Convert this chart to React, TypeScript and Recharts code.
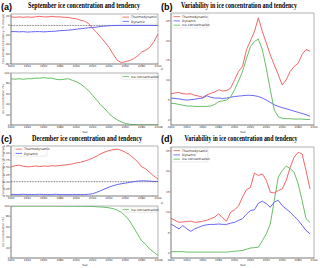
import React from 'react';
import { LineChart, Line, XAxis, YAxis, ReferenceLine, ReferenceArea } from 'recharts';

// years
const yearsFull = [
  1920, 1925, 1930, 1935, 1940, 1945, 1950, 1955, 1960, 1965, 1970, 1975, 1980, 1985, 1990, 1995, 2000, 2005, 2010,
  2015, 2020, 2025, 2030, 2035, 2040, 2045, 2050, 2055, 2060, 2065, 2070, 2075, 2080, 2085, 2090, 2095, 2100,
];
const yearsVar = yearsFull.slice(0, 36);
const xTicks = [1920, 1940, 1960, 1980, 2000, 2020, 2040, 2060, 2080, 2100];

// (a) September
const thermoA = [18, 17, 18, 17, 18, 17, 18, 19, 18, 18, 19, 18, 18, 17, 17, 15, 14, 11, 9, 4, -6, -15, -25, -35, -46, -60, -73, -78, -76, -74, -70, -64, -56, -52, -46, -34, -18];
const dynA = [-13, -13, -13.5, -13, -14, -13.5, -13, -13, -13.5, -13, -12.5, -12, -11, -10.5, -10, -9, -8, -7, -6, -5, -4.5, -3.5, -2, -1.5, -0.7, -0.3, 0, 0, 0, 0, 0, 0, 0, 0, 0, 0, 0];
const iceA = [89, 88, 89, 88, 89, 89, 90, 90, 91, 90, 90, 88, 87, 88, 89, 86, 83, 79, 73, 66, 57, 48, 38, 31, 22, 15, 10, 6, 3, 1.5, 0.8, 0.5, 0.3, 0.3, 0.2, 0.2, 0.2];

// (b) September variability
const thermoB = [6.6, 6.8, 6.9, 6.6, 6.5, 6.6, 6.2, 6.0, 5.7, 6.3, 6.7, 7.0, 7.6, 7.3, 7.4, 8.0, 10.1, 12.2, 13.5, 17.7, 20, 22.3, 25.8, 22.3, 19.4, 16.4, 13.9, 11.4, 8.8, 10.1, 12.2, 13.5, 14.3, 16.5, 17.8, 17.3];
const dynB = [5.5, 5.4, 5.3, 5.1, 5.0, 5.1, 5.2, 5.4, 5.5, 6.1, 5.7, 5.5, 5.5, 5.4, 5.5, 5.7, 5.9, 6.0, 6.1, 6.2, 6.2, 6.1, 5.9, 5.5, 5.0, 4.4, 3.8, 3.4, 3.1, 2.8, 2.5, 2.2, 1.9, 1.6, 1.3, 0.9];
const iceB = [4.2, 4.1, 3.9, 3.7, 3.5, 3.5, 3.4, 3.4, 3.4, 3.4, 3.5, 3.9, 4.6, 4.8, 5.0, 5.8, 7.6, 9.8, 12.2, 15.5, 18.5, 19.8, 20.4, 17.7, 13.0, 7.6, 2.5, 0.8, 0.4, 0.3, 0.3, 0.2, 0.2, 0.2, 0.1, 0.1];

// (c) December
const thermoC = [0.52, 0.56, 0.58, 0.54, 0.52, 0.53, 0.55, 0.53, 0.55, 0.54, 0.56, 0.55, 0.57, 0.58, 0.6, 0.62, 0.66, 0.68, 0.72, 0.77, 0.83, 0.9, 0.98, 1.04, 1.09, 1.12, 1.14, 1.1, 1.03, 0.95, 0.83, 0.7, 0.52, 0.45, 0.32, 0.2, 0.09];
const dynC = [-0.44, -0.45, -0.45, -0.44, -0.45, -0.45, -0.45, -0.44, -0.45, -0.45, -0.45, -0.44, -0.45, -0.45, -0.45, -0.45, -0.45, -0.45, -0.45, -0.44, -0.42, -0.37, -0.31, -0.25, -0.19, -0.14, -0.1, -0.07, -0.05, -0.02, 0, 0.02, 0.03, 0.03, 0.02, 0.01, 0.01];
const iceC = [99.8, 99.8, 99.8, 99.8, 99.8, 99.8, 99.8, 99.8, 99.8, 99.8, 99.8, 99.8, 99.8, 99.7, 99.7, 99.7, 99.6, 99.5, 99.4, 99.3, 99.0, 98.5, 98, 97.5, 96.5, 95, 92, 88, 81, 72, 59, 46, 33, 26, 17, 11, 5];

// (d) December variability
const thermoD = [8.5, 8.0, 7.5, 7.6, 7.7, 7.8, 7.5, 7.6, 7.8, 8.0, 8.4, 8.8, 9.6, 8.6, 7.8, 10.0, 10.6, 11.5, 13.7, 15.5, 16.1, 19.6, 19.0, 19.4, 17.8, 14.9, 14.7, 15.3, 15.7, 17.8, 21.0, 23.5, 24.7, 24.3, 20.2, 15.7];
const dynD = [7.1, 6.5, 5.9, 6.7, 5.9, 5.3, 5.9, 6.3, 6.7, 6.9, 7.0, 7.0, 7.1, 7.0, 7.0, 7.3, 7.5, 8.0, 8.4, 9.5, 10.4, 10.6, 12.2, 12.7, 12.1, 11.2, 12.5, 12.9, 11.6, 10.8, 10.0, 9.0, 8.0, 6.8, 5.5, 4.7];
const iceD = [0.3, 0.3, 0.3, 0.3, 0.2, 0.2, 0.2, 0.2, 0.2, 0.2, 0.2, 0.2, 0.2, 0.2, 0.2, 0.3, 0.4, 0.5, 0.6, 0.9, 1.2, 1.3, 1.4, 3.0, 4.7, 7.1, 12.9, 18.6, 20.2, 21.3, 20.7, 19.8, 17.0, 12.9, 8.4, 7.5];

const RED = '#f25555';
const BLUE = '#5555f5';
const GREEN = '#55b855';
const FONT = '"DejaVu Sans", sans-serif';

const rows = (years: number[], cols: Record<string, number[]>) =>
  years.map((year, i) => {
    const r: Record<string, number> = { year };
    Object.keys(cols).forEach((k) => (r[k] = cols[k][i]));
    return r;
  });

const dataA1 = rows(yearsFull, { thermo: thermoA, dyn: dynA });
const dataA2 = rows(yearsFull, { ice: iceA });
const dataB = rows(yearsVar, { thermo: thermoB, dyn: dynB, ice: iceB });
const dataC1 = rows(yearsFull, { thermo: thermoC, dyn: dynC });
const dataC2 = rows(yearsFull, { ice: iceC });
const dataD = rows(yearsVar, { thermo: thermoD, dyn: dynD, ice: iceD });

const tickStyle = { fontSize: 2.8, fill: '#333', fontFamily: FONT };
const axisStroke = { stroke: '#666', strokeWidth: 0.5 };

function Panel({ x, y, w, h, data, keys, yDomain, yTicks, zero, fmt }: any) {
  const L = 11;
  const B = 8;
  const T = 1;
  const R = 5;
  const colors: Record<string, string> = { thermo: RED, dyn: BLUE, ice: GREEN };
  return (
    <div style={{ position: 'absolute', left: x - L, top: y - T }}>
      <LineChart width={L + w + R} height={T + h + B} data={data} margin={{ top: T, right: R, left: 0, bottom: 0 }}>
        <XAxis
          dataKey="year"
          type="number"
          domain={[1920, 2100]}
          ticks={xTicks}
          interval={0}
          height={B}
          tick={tickStyle}
          tickSize={1.2}
          tickMargin={0.3}
          axisLine={axisStroke}
          tickLine={{ stroke: '#666', strokeWidth: 0.4 }}
        />
        <YAxis
          type="number"
          domain={yDomain}
          ticks={yTicks}
          interval={0}
          width={L}
          allowDataOverflow
          tick={tickStyle}
          tickSize={1.2}
          tickMargin={0.3}
          tickFormatter={fmt}
          axisLine={axisStroke}
          tickLine={{ stroke: '#666', strokeWidth: 0.4 }}
        />
        <ReferenceArea x1={1920} x2={2100} y1={yDomain[0]} y2={yDomain[1]} fill="none" stroke="#666" strokeWidth={0.5} />
        {zero && <ReferenceLine y={0} stroke="#000" strokeWidth={0.6} strokeDasharray="0.8 0.8" />}
        {keys.map((k: string) => (
          <Line key={k} dataKey={k} type="linear" stroke={colors[k]} strokeWidth={0.9} dot={false} isAnimationActive={false} />
        ))}
      </LineChart>
    </div>
  );
}

function LegendBox({ x, y, w, items }: { x: number; y: number; w: number; items: [string, string][] }) {
  const lh = 4.3;
  return (
    <g>
      <rect x={x} y={y} width={w} height={items.length * lh + 1} rx={0.8} fill="#fff" fillOpacity={0.85} stroke="#ccc" strokeWidth={0.4} />
      {items.map(([label, c], i) => (
        <g key={label}>
          <line x1={x + 1.5} x2={x + 8} y1={y + 2.6 + i * lh} y2={y + 2.6 + i * lh} stroke={c} strokeWidth={0.8} />
          <text x={x + 10} y={y + 3.7 + i * lh} fontSize={3.2} fontFamily={FONT} fill="#222">
            {label}
          </text>
        </g>
      ))}
    </g>
  );
}

export default function App() {
  const title = { fontFamily: '"Liberation Serif", serif', fontWeight: 700, fontSize: 8, fill: '#000' } as const;
  const lab = { fontFamily: '"Liberation Sans", sans-serif', fontWeight: 700, fontSize: 9, fill: '#000' } as const;
  const small = { fontFamily: FONT, fontSize: 2.8, fill: '#333' } as const;
  return (
    <div style={{ position: 'absolute', left: 0, top: 0, width: 320, height: 268, background: '#fff' }}>
      <Panel x={11} y={14} w={147} h={50} data={dataA1} keys={['thermo', 'dyn']} yDomain={[-81, 24]} yTicks={[-80, -60, -40, -20, 0, 20]} zero />
      <Panel x={11} y={73} w={147} h={52} data={dataA2} keys={['ice']} yDomain={[0, 100]} yTicks={[0, 20, 40, 60, 80, 100]} />
      <Panel x={171} y={13} w={143} h={112} data={dataB} keys={['thermo', 'dyn', 'ice']} yDomain={[-1.3, 27]} yTicks={[0, 5, 10, 15, 20, 25]} />
      <Panel
        x={11}
        y={146}
        w={147}
        h={50}
        data={dataC1}
        keys={['thermo', 'dyn']}
        yDomain={[-0.5, 1.25]}
        yTicks={[-0.5, -0.25, 0, 0.25, 0.5, 0.75, 1, 1.25]}
        fmt={(v: number) => v.toFixed(2)}
        zero
      />
      <Panel x={11} y={206} w={147} h={52} data={dataC2} keys={['ice']} yDomain={[0, 100]} yTicks={[0, 20, 40, 60, 80, 100]} />
      <Panel x={171} y={147} w={143} h={111} data={dataD} keys={['thermo', 'dyn', 'ice']} yDomain={[-1.25, 26]} yTicks={[0, 5, 10, 15, 20, 25]} />

      <svg width={320} height={268} style={{ position: 'absolute', left: 0, top: 0, pointerEvents: 'none' }}>
        <text x={1} y={10} {...lab}>(a)</text>
        <text x={161} y={10} {...lab}>(b)</text>
        <text x={1} y={142} {...lab}>(c)</text>
        <text x={161} y={142} {...lab}>(d)</text>

        <text x={84} y={8} textAnchor="middle" textLength={112} lengthAdjust="spacingAndGlyphs" {...title}>
          September ice concentration and tendency
        </text>
        <text x={239} y={8} textAnchor="middle" textLength={116} lengthAdjust="spacingAndGlyphs" {...title}>
          Variability in ice concentration and tendency
        </text>
        <text x={87} y={141} textAnchor="middle" textLength={110} lengthAdjust="spacingAndGlyphs" {...title}>
          December ice concentration and tendency
        </text>
        <text x={241} y={141} textAnchor="middle" textLength={113} lengthAdjust="spacingAndGlyphs" {...title}>
          Variability in ice concentration and tendency
        </text>

        <text transform="translate(3.5,39) rotate(-90)" textAnchor="middle" {...small}>Concentration tendency (% change)</text>
        <text transform="translate(3.5,99) rotate(-90)" textAnchor="middle" {...small}>Ice concentration (%)</text>
        <text transform="translate(3.5,171) rotate(-90)" textAnchor="middle" {...small}>Concentration tendency (% change)</text>
        <text transform="translate(3.5,232) rotate(-90)" textAnchor="middle" {...small}>Ice concentration (%)</text>
        <text transform="translate(163,69) rotate(-90)" textAnchor="middle" {...small}>%</text>
        <text transform="translate(163,203) rotate(-90)" textAnchor="middle" {...small}>%</text>
        <text x={161} y={128} {...small}>0</text>
        <text x={161} y={261} {...small}>0</text>

        <text x={85} y={133} textAnchor="middle" {...small}>Year</text>
        <text x={243} y={133} textAnchor="middle" {...small}>Year</text>
        <text x={85} y={266} textAnchor="middle" {...small}>Year</text>
        <text x={243} y={266} textAnchor="middle" {...small}>Year</text>

        <LegendBox x={121} y={14.5} w={36} items={[['Thermodynamic', RED], ['Dynamic', BLUE]]} />
        <LegendBox x={121} y={74} w={36} items={[['Ice concentration', GREEN]]} />
        <LegendBox x={172} y={14} w={36} items={[['Thermodynamic', RED], ['Dynamic', BLUE], ['Ice concentration', GREEN]]} />
        <LegendBox x={14} y={146.5} w={33} items={[['Thermodynamic', RED], ['Dynamic', BLUE]]} />
        <LegendBox x={121} y={207} w={36} items={[['Ice concentration', GREEN]]} />
        <LegendBox x={172} y={148} w={36} items={[['Thermodynamic', RED], ['Dynamic', BLUE], ['Ice concentration', GREEN]]} />
      </svg>
    </div>
  );
}
